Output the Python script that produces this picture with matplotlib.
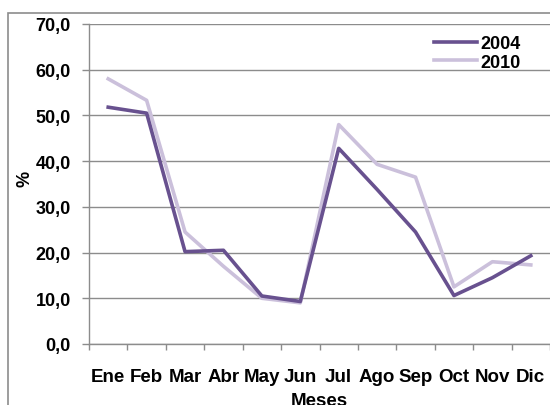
import matplotlib.pyplot as plt
from matplotlib.patches import Rectangle
from matplotlib.ticker import FixedLocator

plt.rcParams["font.family"] = ["Liberation Sans", "DejaVu Sans"]

meses = ["Ene", "Feb", "Mar", "Abr", "May", "Jun", "Jul", "Ago", "Sep", "Oct", "Nov", "Dic"]
serie_2004 = [51.8, 50.5, 20.2, 20.5, 10.5, 9.3, 42.8, 33.8, 24.5, 10.6, 14.5, 19.3]
serie_2010 = [58.0, 53.3, 24.5, 17.0, 10.0, 9.0, 48.0, 39.3, 36.5, 12.5, 18.0, 17.3]
y_ticks = [0, 10, 20, 30, 40, 50, 60, 70]

W, H = 550, 406
fig = plt.figure(figsize=(W / 100, H / 100), dpi=100)

# outer chart border (cut off on right and bottom)
fig.patches.append(Rectangle((8 / W, -0.1), 1.2, 1 - 14 / H + 0.1, transform=fig.transFigure,
                             fill=False, edgecolor="#8c8c8c", linewidth=1.2))

ax = fig.add_axes([89 / W, 1 - 345 / H, (W - 89) / W, (345 - 25) / H])
x = list(range(len(meses)))

ax.plot(x, serie_2004, color="#68518f", linewidth=2.6, label="2004", zorder=3)
ax.plot(x, serie_2010, color="#cbc0db", linewidth=2.6, label="2010", zorder=2)

ax.set_xlim(-0.5, len(meses) - 0.5)
ax.set_ylim(0, 70)
ax.set_yticks(y_ticks)
ax.set_yticklabels([f"{v:.1f}".replace(".", ",") for v in y_ticks], fontsize=13, fontweight="bold")
ax.set_xticks(x)
ax.set_xticklabels(meses, fontsize=13.5, fontweight="bold")
ax.xaxis.set_minor_locator(FixedLocator([i - 0.5 for i in range(len(meses) + 1)]))
ax.tick_params(axis="x", which="major", length=0, pad=17)
ax.tick_params(axis="x", which="minor", length=4.5, color="#8c8c8c", width=1)
ax.tick_params(axis="y", length=5, color="#8c8c8c", width=1, pad=8)

ax.grid(axis="y", color="#8c8c8c", linewidth=1)
ax.set_axisbelow(True)
for s in ["top", "right"]:
    ax.spines[s].set_visible(False)
for s in ["left", "bottom"]:
    ax.spines[s].set_color("#8c8c8c")
    ax.spines[s].set_linewidth(1)

ax.set_ylabel("%", fontsize=13, fontweight="bold")
ax.yaxis.set_label_coords(-56 / 461, 0.52)
ax.set_xlabel("Meses", fontsize=13.5, fontweight="bold", labelpad=5)

leg = ax.legend(loc="upper right", bbox_to_anchor=(0.96, 1.0), frameon=False,
                prop={"weight": "bold", "size": 13}, handlelength=2.4,
                handletextpad=0.2, labelspacing=0.1, borderaxespad=0.2)

fig.savefig("out.png", dpi=100)
